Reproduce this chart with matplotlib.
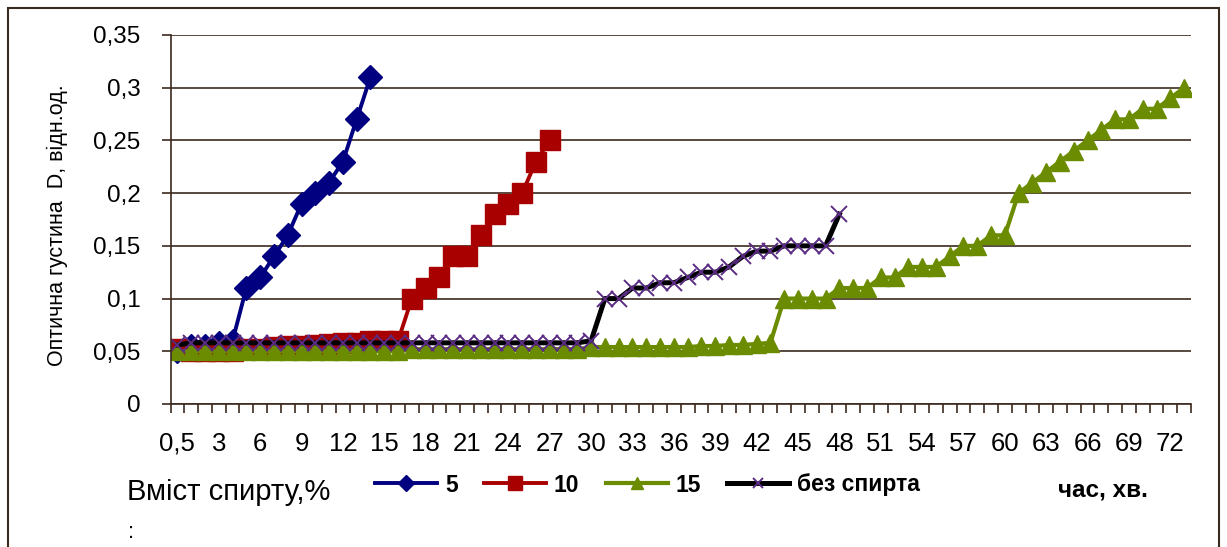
import numpy as np
import matplotlib
matplotlib.use("Agg")
import matplotlib.pyplot as plt
from matplotlib import font_manager
from matplotlib.patches import Rectangle

# час, хв. (перша точка 0,5 хв)
minutes = [0.5] + list(range(1, 74))
tick_labels = ["0,5"] + [str(m) for m in range(3, 73, 3)]

nan = np.nan

# оптична густина D для різного вмісту спирту
d_5 = [0.05, 0.055, 0.055, 0.058, 0.06, 0.11, 0.12, 0.14, 0.16, 0.19,
       0.20, 0.21, 0.23, 0.27, 0.31]

d_10 = [0.052, 0.05, 0.05, 0.05, 0.05, 0.052, 0.052, 0.054, 0.055, 0.055,
        0.056, 0.057, 0.058, 0.058, 0.06, 0.06, 0.06,
        0.10, 0.11, 0.12, 0.14, 0.14, 0.16, 0.18, 0.19, 0.20, 0.23, 0.25]

d_15 = [0.05] * 17 + [0.052] * 13 + [0.054] * 8 + \
       [0.055, 0.055, 0.056, 0.056, 0.057, 0.058] + \
       [0.10, 0.10, 0.10, 0.10, 0.11, 0.11, 0.11, 0.12, 0.12, 0.13,
        0.13, 0.13, 0.14, 0.15, 0.15, 0.16, 0.16, 0.20, 0.21, 0.22,
        0.23, 0.24, 0.25, 0.26, 0.27, 0.27, 0.28, 0.28, 0.29, 0.30]

d_0 = [0.056] + [0.058] * 29 + [0.06] + \
      [0.10, 0.10, 0.11, 0.11, 0.115, 0.115, 0.12, 0.125, 0.125, 0.13,
       0.14, 0.145, 0.145, 0.15, 0.15, 0.15, 0.15, 0.18]


def padded(vals):
    out = np.full(len(minutes), nan)
    out[:len(vals)] = vals
    return out


installed = {f.name for f in font_manager.fontManager.ttflist}
narrow = "Liberation Sans Narrow" if "Liberation Sans Narrow" in installed else "Liberation Sans"
plt.rcParams["font.family"] = ["Liberation Sans", "DejaVu Sans"]

grid_col = "#3b2a1e"

fig = plt.figure(figsize=(12.27, 5.47), dpi=100)
ax = fig.add_axes([170.5 / 1227, 143 / 547, (1191 - 170.5) / 1227, 369 / 547])

idx = np.arange(len(minutes))
series = [
    (d_5, "5", dict(color="#000080", marker="D", ms=12, lw=2.8,
                    mfc="#000080", mec="#000080")),
    (d_10, "10", dict(color="#a80000", marker="s", ms=15, lw=2.8,
                      mfc="#a80000", mec="#a80000")),
    (d_15, "15", dict(color="#6b8c00", marker="^", ms=13, lw=3.0,
                      mfc="#6b8c00", mec="#6b8c00")),
    (d_0, "без спирта", dict(color="black", marker="x", ms=11, lw=3.6,
                             mec="#5b2c83", mew=1.4)),
]
handles = []
for vals, name, style in series:
    ln, = ax.plot(idx, padded(vals), label=name, **style)
    handles.append(ln)

ax.set_xlim(-0.5, len(minutes) - 0.5)
ax.set_ylim(0, 0.35)

yt = np.arange(0, 0.351, 0.05)
ax.set_yticks(yt)
ax.set_yticklabels([f"{v:.2f}".rstrip("0").rstrip(".").replace(".", ",") for v in yt],
                   fontsize=17.5)
ax.yaxis.grid(True, color=grid_col, lw=1.2)
ax.set_axisbelow(True)

# поділки між категоріями, підписи кожної третьої
ax.set_xticks(np.arange(-0.5, len(minutes), 1))
ax.set_xticklabels([])
ax.set_xticks(np.arange(0, len(minutes), 3), minor=True)
ax.set_xticklabels(tick_labels, minor=True, fontsize=18.5, family=narrow)
ax.tick_params(axis="x", which="major", direction="out", length=6.5, width=1.2,
               color=grid_col)
ax.tick_params(axis="x", which="minor", length=0, pad=20)
ax.tick_params(axis="y", direction="out", length=6.5, width=1.2, color=grid_col, pad=15)

for side in ("top", "right"):
    ax.spines[side].set_visible(False)
for side in ("left", "bottom"):
    ax.spines[side].set_color(grid_col)
    ax.spines[side].set_linewidth(1.2)

fig.text(57 / 1227, 1 - 225 / 547, "Оптична густина  D, відн.од.", rotation=90,
         ha="center", va="center", fontsize=15.5)
fig.text(127 / 1227, 1 - 500 / 547, "Вміст спирту,%", ha="left", va="baseline",
         fontsize=21)
fig.text(128 / 1227, 1 - 538 / 547, ":", ha="left", va="baseline", fontsize=16)
fig.text(1058 / 1227, 1 - 497 / 547, "час, хв.", ha="left", va="baseline",
         fontsize=17.5, fontweight="bold")

fig.legend(handles=handles, ncol=4, loc="center left",
           bbox_to_anchor=(375 / 1227, 1 - 485 / 547), frameon=False,
           handlelength=2.7, handletextpad=0.35, columnspacing=1.15,
           markerscale=0.7, borderpad=0, borderaxespad=0,
           prop=dict(family="Liberation Sans", weight="bold", size=16.5))

fig.patches.append(Rectangle((8 / 1227, -0.1), (1219 - 8) / 1227, 1.1 - 8 / 547,
                             transform=fig.transFigure, fill=False,
                             edgecolor=grid_col, lw=1.5))

fig.savefig("out.png", dpi=100)
